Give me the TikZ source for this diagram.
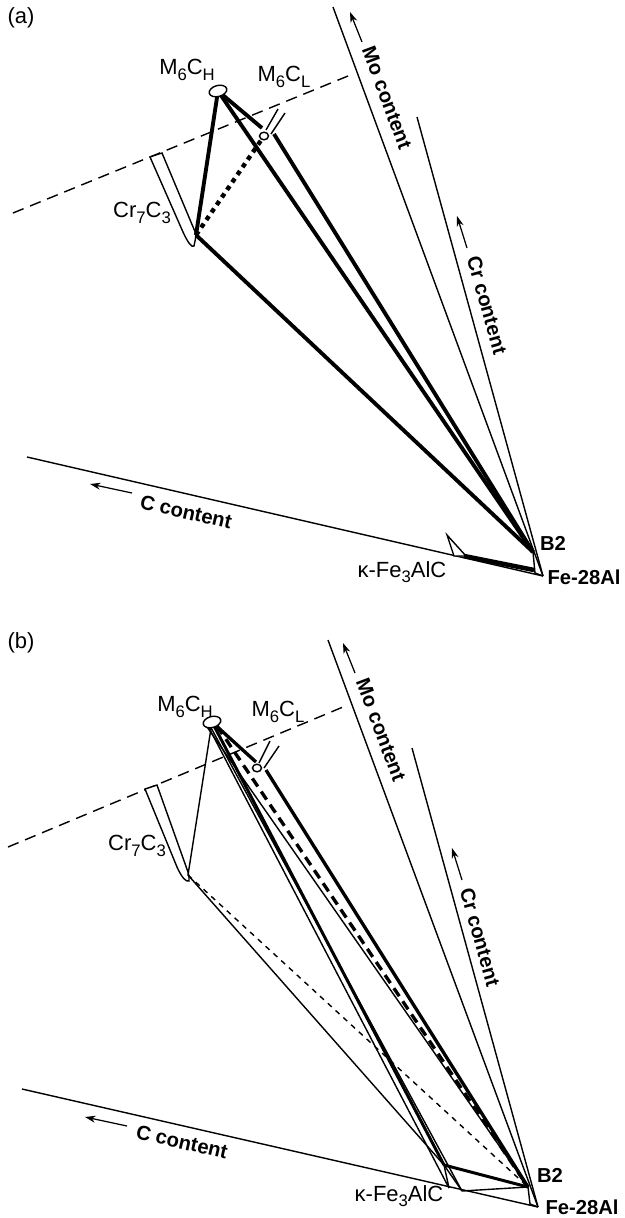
\documentclass[tikz,border=0pt]{standalone}
\usepackage{fontspec}
\setmainfont{Liberation Sans}
\usetikzlibrary{arrows.meta}
\newcommand{\lowidx}[1]{\raisebox{-0.45ex}{\fontsize{9.5}{9.5}\selectfont #1}}

\begin{document}
\begin{tikzpicture}[x=0.02cm, y=-0.02cm,
	every node/.style={font=\fontsize{12.5}{14}\selectfont, inner sep=0.5pt},
	axisline/.style={line width=0.8pt},
	axlabel/.style={font=\bfseries\fontsize{11.5}{13}\selectfont},
	axarrow/.style={line width=0.7pt, -{Stealth[length=6pt, width=4pt]}},
	tie/.style={line width=2.2pt},
	thintie/.style={line width=0.8pt},
	trace/.style={line width=0.8pt, dash pattern=on 6.5pt off 4pt},
	phase/.style={fill=white, line width=0.8pt}]
	\useasboundingbox (0,0) rectangle (625,1218);

	% (a)
	\node (tagA) at (21,18) {(a)};
	\coordinate (FeA) at (543,576);
	\coordinate (B2A) at (533,552);
	\coordinate (B2cA) at (535,573);
	\coordinate (MHA) at (218,91);
	\coordinate (MLA) at (264,136);
	\coordinate (CrA) at (196,235);
	\coordinate (KA) at (464,556);
	\draw[axisline] (333,7) -- (FeA);
	\draw[axisline] (417,117) -- (FeA);
	\draw[axisline] (27,457) -- (FeA);
	\draw[trace] (13,213) -- (348,76);
	\draw[axarrow] (362,42) -- (350,12);
	\draw[axarrow] (467,248) -- (457,216);
	\draw[axarrow] (132,493) -- (90,484);
	\node[axlabel, rotate=-69.5] (MoA) at (387,98) {Mo content};
	\node[axlabel, rotate=-74.2] (CrcA) at (487,305) {Cr content};
	\node[axlabel, rotate=-13] (CcA) at (186,512) {C content};
	\draw[phase] (150,157) -- (183,232) .. controls (188,243) and (192,248) .. (194,246)
		.. controls (195,241) and (196,237) .. (196,234) -- (162,153) -- cycle;
	\draw[phase] (447,535) -- (454,556) -- (466,556) -- cycle;
	\draw[tie] (MHA) -- (CrA);
	\draw[tie] (MHA) -- (262,128);
	\draw[tie] (274,134) -- (B2A);
	\draw[tie] (MHA) -- (B2A);
	\draw[tie] (CrA) -- (B2A);
	\draw[line width=2.5pt, dash pattern=on 2.6pt off 2.6pt] (CrA) -- (MLA);
	\draw[line width=2.6pt] (KA) -- (534,570);
	\draw[thintie] (B2A) -- (B2cA) -- (FeA);
	\draw[phase] (266,130) -- (278,109);
	\draw[phase] (271,134) -- (285,113);
	\draw[phase] (MHA) ellipse [x radius=9, y radius=5.5, rotate=15];
	\draw[phase] (MLA) ellipse [x radius=4.5, y radius=3.8];
	\node (MHlA) at (187,70) {M\lowidx{6}C\lowidx{H}};
	\node (MLlA) at (284,77) {M\lowidx{6}C\lowidx{L}};
	\node (CrlA) at (142,213) {Cr\lowidx{7}C\lowidx{3}};
	\node (KlA) at (402,572) {κ-Fe\lowidx{3}AlC};
	\node[axlabel] (B2lA) at (553,543) {B2};
	\node[axlabel] (FelA) at (584,577) {Fe-28Al};

	% (b)
	\node (tagB) at (21,643) {(b)};
	\coordinate (FeB) at (538,1207);
	\coordinate (B2B) at (528,1187);
	\coordinate (B2cB) at (530,1204);
	\coordinate (MHB) at (212,722);
	\coordinate (MLB) at (257,768);
	\coordinate (CrB) at (188,875);
	\coordinate (KB) at (444,1165);
	\coordinate (KlB) at (449,1188);
	\coordinate (KrB) at (462,1191);
	\draw[axisline] (328,640) -- (FeB);
	\draw[axisline] (412,748) -- (FeB);
	\draw[axisline] (22,1089) -- (FeB);
	\draw[trace] (8,847) -- (343,707);
	\draw[axarrow] (355,673) -- (343,643);
	\draw[axarrow] (462,880) -- (452,848);
	\draw[axarrow] (127,1126) -- (85,1117);
	\node[axlabel, rotate=-69.5] (MoB) at (381,730) {Mo content};
	\node[axlabel, rotate=-74.2] (CrcB) at (480,937) {Cr content};
	\node[axlabel, rotate=-13] (CcB) at (182,1142) {C content};
	\draw[phase] (145,789) -- (177,867) .. controls (182,878) and (186,882) .. (189,881)
		.. controls (189,877) and (189,874) .. (188,872) -- (157,785) -- cycle;
	\draw[thintie] (MHB) -- (CrB);
	\draw[thintie] (CrB) -- (KB);
	\draw[line width=0.8pt, dash pattern=on 3pt off 3pt] (CrB) -- (B2B);
	\draw[thintie] (KB) -- (KlB);
	\draw[thintie] (KB) -- (KrB);
	\draw[thintie] (207,724) -- (KlB);
	\draw[thintie] (209,724) -- (KrB);
	\draw[line width=1.7pt] (MHB) -- (KB);
	\draw[line width=1.7pt] (KB) -- (B2B);
	\draw[thintie] (KrB) -- (B2B);
	\draw[thintie] (205,724) -- (B2B);
	\draw[line width=1.9pt, dash pattern=on 5.5pt off 3.5pt] (217,726) -- (B2B);
	\draw[line width=1.9pt] (MHB) -- (256,762);
	\draw[line width=1.9pt] (266,770) -- (B2B);
	\draw[thintie] (B2B) -- (B2cB) -- (FeB);
	\draw[phase] (259,763) -- (270,741);
	\draw[phase] (264,768) -- (279,746);
	\draw[phase] (MHB) ellipse [x radius=9, y radius=5.5, rotate=15];
	\draw[phase] (MLB) ellipse [x radius=4.5, y radius=3.8];
	\node (MHlB) at (185,707) {M\lowidx{6}C\lowidx{H}};
	\node (MLlB) at (278,712) {M\lowidx{6}C\lowidx{L}};
	\node (CrlB) at (137,846) {Cr\lowidx{7}C\lowidx{3}};
	\node (KlbB) at (399,1196) {κ-Fe\lowidx{3}AlC};
	\node[axlabel] (B2lB) at (550,1175) {B2};
	\node[axlabel] (FelB) at (582,1207) {Fe-28Al};
\end{tikzpicture}
\end{document}
